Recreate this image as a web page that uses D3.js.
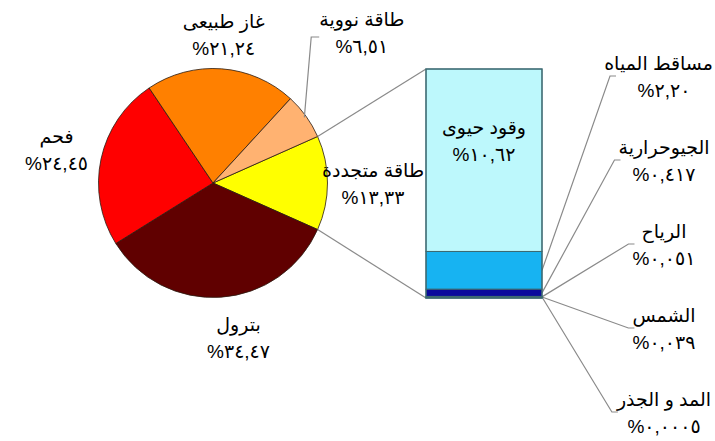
<!DOCTYPE html>
<html><head><meta charset="utf-8">
<script src="https://cdn.jsdelivr.net/npm/d3@7"></script>
<style>
html,body{margin:0;padding:0;background:#fff;}
svg{display:block;}
text{font-family:Arial,"Liberation Sans","DejaVu Sans",sans-serif;fill:#000;}
</style></head>
<body>
<script>
// ---- data ----
const pieNames  = ["طاقة متجددة","بترول","فحم","غاز طبيعى","طاقة نووية"];
const pieValues = [13.33, 34.47, 24.45, 21.24, 6.51];
const pieDecimals = [2, 2, 2, 2, 2];
const barNames  = ["وقود حيوى","مساقط المياه","الجيوحرارية","الرياح","الشمس","المد و الجذر"];
const barValues = [10.62, 2.20, 0.417, 0.051, 0.039, 0.0005];
const barDecimals = [2, 2, 3, 3, 3, 4];

// ---- styles / layout ----
const pieColors = ["#FFFF00","#600000","#FF0000","#FF8000","#FFB271"];
const barColors = ["#BDF8FC","#17B3F2","#0A0A9C","#3366CC","#6699FF","#003399"];
const W = 715, H = 441;
const cx = 213, cy = 183, R = 114.5;
// label polar placement: [angle offset (deg), distance]
const pieLabelPos = [[0,160],[-5.4,157],[0,160],[-0.2,149],[-9.7,212]];

const toArabic = s => s.replace(/[0-9]/g, d => "٠١٢٣٤٥٦٧٨٩"[+d]).replace(".", ",");
const pct = (v, dec) => "%" + toArabic(v.toFixed(dec));

const svg = d3.select("body").append("svg").attr("width", W).attr("height", H);

// ---- pie ----
const total = d3.sum(pieValues);
const start = Math.PI/2 - Math.PI * pieValues[0] / total;
const pie = d3.pie().sort(null).startAngle(start).endAngle(start + 2*Math.PI);
const arcs = pie(pieValues);
const arc = d3.arc().innerRadius(0).outerRadius(R);
const g = svg.append("g").attr("transform", `translate(${cx},${cy})`);
g.selectAll("path").data(arcs).join("path")
  .attr("d", arc).attr("fill", (d,i) => pieColors[i])
  .attr("stroke", "#2a1a10").attr("stroke-width", 0.8);

const polar = (a, r) => [cx + r*Math.sin(a), cy - r*Math.cos(a)];
const fs = 19, lh = 27, fw = "normal";

// ---- bar ----
const barTotal = d3.sum(barValues);
const bx0 = 426, bx1 = 542, by0 = 69, by1 = 298;
const y = d3.scaleLinear().domain([0, barTotal]).range([by1, by0]);
const x = d3.scaleBand().domain(["b"]).range([bx0, bx1]).padding(0);
let acc = 0;
const stacked = barValues.map((v,i) => ({v, i})).reverse().map(d => {
  const o = {...d, y0: acc, y1: acc + d.v}; acc += d.v; return o;
}).reverse();

// connector lines pie -> bar
const renew = arcs[0];
const pTop = polar(renew.startAngle, R), pBot = polar(renew.endAngle, R);
svg.append("line").attr("x1", pTop[0]).attr("y1", pTop[1]).attr("x2", x("b")).attr("y2", y(barTotal))
  .attr("stroke", "#8a8a8a").attr("stroke-width", 1.2);
svg.append("line").attr("x1", pBot[0]).attr("y1", pBot[1]).attr("x2", x("b")).attr("y2", y(0))
  .attr("stroke", "#8a8a8a").attr("stroke-width", 1.2);

svg.append("g").selectAll("rect").data(stacked).join("rect")
  .attr("x", x("b")).attr("width", x.bandwidth())
  .attr("y", d => y(d.y1)).attr("height", d => y(d.y0) - y(d.y1))
  .attr("fill", d => barColors[d.i]).attr("stroke", "#3d6a72").attr("stroke-width", 1);
svg.append("rect").attr("x", x("b")).attr("y", y(barTotal)).attr("width", x.bandwidth())
  .attr("height", y(0) - y(barTotal)).attr("fill", "none").attr("stroke", "#3d6a72").attr("stroke-width", 1.2);

function twoLine(parent, lx, ly, a, b, maxRight) {
  const t = parent.append("g");
  [a, b].forEach((s, k) => {
    const tx = t.append("text").attr("x", lx).attr("y", ly + (k ? lh/2 : -lh/2) + 7)
      .attr("text-anchor","middle").attr("font-size", fs).attr("font-weight", fw).text(s);
    if (maxRight) {
      const w = tx.node().getComputedTextLength();
      tx.attr("x", Math.min(lx, maxRight - w/2));
    }
  });
  return t;
}

// ---- pie labels ----
arcs.forEach((a, i) => {
  const mid = (a.startAngle + a.endAngle)/2;
  const [off, dist] = pieLabelPos[i];
  const [lx, ly] = polar(mid + off*Math.PI/180, dist);
  const t = twoLine(svg, lx, ly, pieNames[i], pct(pieValues[i], pieDecimals[i]));
  if (i === 4) {
    const bb = t.node().getBBox();
    const p0 = polar(mid, R - 2);
    const ex = bb.x - 8, ey = ly + 5;
    svg.append("polyline").attr("points", `${p0[0]},${p0[1]} ${ex},${ey} ${ex+8},${ey}`)
      .attr("fill","none").attr("stroke","#8a8a8a").attr("stroke-width",1.2);
  }
});

// ---- bar labels ----
const mainSeg = stacked.find(d => d.i === 0);
const bmx = x("b") + x.bandwidth()/2, bmy = (y(mainSeg.y0) + y(mainSeg.y1))/2 - 20;
twoLine(svg, bmx, bmy, barNames[0], pct(barValues[0], barDecimals[0]));

const others = barNames.slice(1);
const ly = d3.scalePoint().domain(others).range([76, 412]);
const lxc = 664;
others.forEach((name, k) => {
  const i = k + 1;
  const seg = stacked.find(d => d.i === i);
  const sy = Math.min((y(seg.y0) + y(seg.y1))/2, y(0) - 1);
  const cyL = ly(name);
  const t = twoLine(svg, lxc, cyL, name, pct(barValues[i], barDecimals[i]), W - 2);
  const bb = t.node().getBBox();
  const ex = Math.max(bb.x, 614) - 4;
  svg.insert("polyline", "g").attr("points", `${x("b")+x.bandwidth()},${sy} ${ex},${cyL} ${ex+6},${cyL}`)
    .attr("fill","none").attr("stroke","#8a8a8a").attr("stroke-width",1.2);
});
</script>
</body></html>
